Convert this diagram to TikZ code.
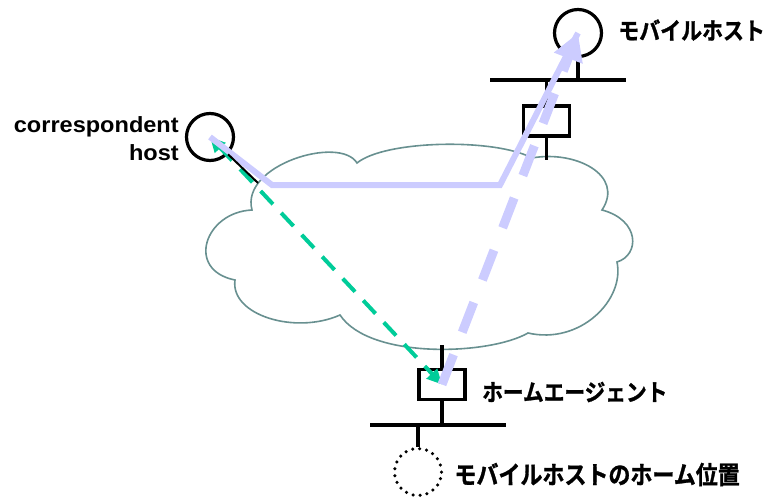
\documentclass[tikz,border=0pt]{standalone}
\usepackage{fontspec}
\usepackage{tikz}
\usepackage{xcolor}
\usetikzlibrary{positioning}
\usetikzlibrary{arrows.meta}

\setmainfont{Liberation Sans}
\newfontfamily\enfont{Liberation Sans Bold}[FakeStretch=1.07]
\newfontfamily\jpfont{Noto Sans CJK JP Bold}[FakeStretch=0.88,FakeBold=1.2]

\definecolor{lav}{RGB}{204,204,255}
\definecolor{grn}{RGB}{0,204,153}
\definecolor{cloudgray}{RGB}{104,144,144}

\tikzset{
  host/.style={circle,draw,line width=3.2pt,minimum size=47pt,inner sep=0pt},
  homehost/.style={circle,draw,line width=3.5pt,line cap=round,dash pattern=on 0pt off 7.04pt,minimum size=47pt,inner sep=0pt},
  router/.style={rectangle,draw,line width=3.2pt,minimum width=46pt,minimum height=30pt,inner sep=0pt},
  wire/.style={line width=3.2pt},
  cloudline/.style={draw=cloudgray,line width=1.6pt},
  lavline/.style={draw=lav,line width=6pt,line join=miter},
  lavdash/.style={draw=lav,line width=9pt,dash pattern=on 32pt off 24pt,-{Triangle[length=27pt,width=29pt]}},
  grnline/.style={draw=grn,line width=4pt,dash pattern=on 18pt off 12pt,{Triangle[length=15pt,width=14pt]}-{Triangle[length=15pt,width=14pt]}},
  enlabel/.style={font=\enfont\fontsize{22}{28}\selectfont,align=right,inner sep=0pt},
  jplabel/.style={font=\jpfont\fontsize{23.5}{26}\selectfont,inner sep=0pt}
}

\begin{document}
\begin{tikzpicture}[x=1pt,y=-1pt]
  \useasboundingbox (0,0) rectangle (769,501);

  % the internet
  \draw[cloudline] (252,210)
    .. controls (240,165) and (340,135) .. (357,163)
    .. controls (385,140) and (495,138) .. (532,158)
    .. controls (575,150) and (625,175) .. (602,210)
    .. controls (640,220) and (640,255) .. (617,262)
    .. controls (625,300) and (580,345) .. (528,333)
    .. controls (490,355) and (370,360) .. (340,315)
    .. controls (295,335) and (230,315) .. (235,280)
    .. controls (185,270) and (205,212) .. (252,210) -- cycle;

  % hosts and routers
  \node(ch) [host] at (210,137) {};
  \node(mh) [host] at (578,33) {};
  \node(rt) [router] at (546.5,121) {};
  \node(ha) [router] at (442,384.5) {};
  \node(home) [homehost] at (418,472) {};

  \coordinate(mhbusL) at (490,80);
  \coordinate(mhbusR) at (626,80);
  \coordinate(habusL) at (370,425);
  \coordinate(habusR) at (506,425);
  \coordinate(rtlink) at (546.5,160);
  \coordinate(halink) at (442,345);
  \coordinate(chlink) at (258,183);

  \draw[wire] (mhbusL) -- (mhbusR);
  \draw[wire] (mh) -- (mh |- mhbusL);
  \draw[wire] (rt) -- (rt |- mhbusL);
  \draw[wire] (rt) -- (rtlink);
  \draw[wire] (ha) -- (halink);
  \draw[wire] (habusL) -- (habusR);
  \draw[wire] (ha) -- (ha |- habusL);
  \draw[wire] (home) -- (home |- habusL);

  % labels
  \node(chlabel) [enlabel, left=6pt of ch, yshift=-2pt] {correspondent\\host};
  \node(mhlabel) [jplabel, right=15pt of mh, yshift=3pt, font=\jpfont\fontsize{23.8}{26}\selectfont] {モバイルホスト};
  \node(halabel) [jplabel, right=15.5pt of ha, yshift=-7.5pt] {ホームエージェント};
  \node(homelabel) [jplabel, right=11pt of home, yshift=-2.5pt, font=\jpfont\fontsize{25}{26}\selectfont] {モバイルホストのホーム位置};

  % routes
  \coordinate(bend1) at (272,185);
  \coordinate(bend2) at (500,185);
  \draw[grnline] (ch.center) -- (ha.center);
  \draw[lavline] (ch.center) -- (bend1) -- (bend2) -- (mh.center);
  \draw[lavdash] (ha.center) -- (mh.center);
  \draw[line width=2pt] (ch) -- (chlink);
\end{tikzpicture}
\end{document}
